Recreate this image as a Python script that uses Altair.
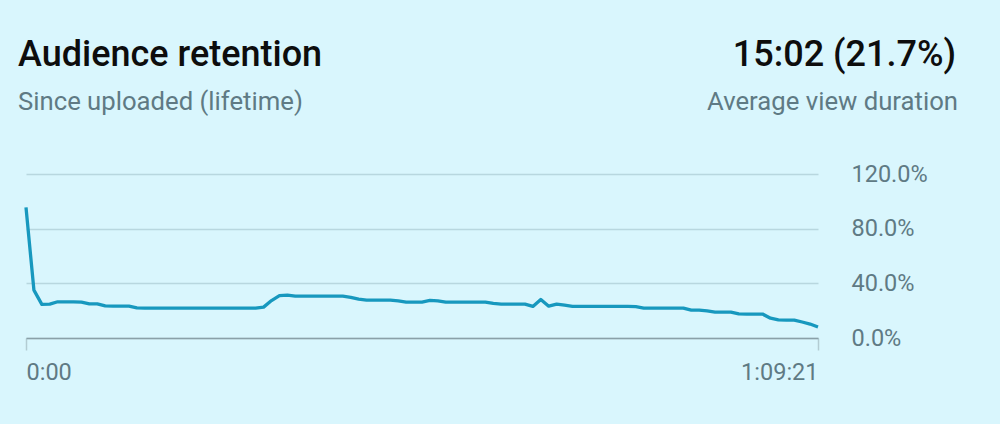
import altair as alt
import pandas as pd
import jinja2

# Retention (% of viewers) sampled at 101 evenly spaced points of the video
RETENTION = [
    95.6, 35.0, 24.6, 24.8, 26.5, 26.5, 26.5, 26.3, 25.0, 25.0,
    23.5, 23.3, 23.3, 23.3, 22.0, 21.9, 21.9, 21.9, 21.9, 21.9,
    21.9, 21.9, 21.9, 21.9, 21.9, 21.9, 21.9, 21.9, 21.9, 21.9,
    22.6, 27.4, 31.0, 31.4, 30.6, 30.6, 30.6, 30.6, 30.6, 30.6,
    30.6, 29.8, 28.5, 27.7, 27.7, 27.7, 27.7, 27.2, 26.3, 26.3,
    26.3, 27.5, 27.2, 26.3, 26.3, 26.3, 26.3, 26.3, 26.3, 25.3,
    24.8, 24.8, 24.8, 24.8, 23.1, 28.2, 23.3, 24.8, 24.0, 23.1,
    23.1, 23.1, 23.1, 23.1, 23.1, 23.1, 23.1, 22.9, 21.9, 21.9,
    21.9, 21.9, 21.9, 21.9, 20.4, 20.4, 19.8, 19.0, 19.0, 19.0,
    17.6, 17.5, 17.5, 17.5, 14.5, 13.2, 13.1, 13.1, 11.7, 10.2,
    8.0,
]
POSITION = list(range(len(RETENTION)))  # sample index, 0..100 (% of video)
X_TICKS = [0, 100]
X_LABELS = ["0:00", "1:09:21"]
Y_TICKS = [0, 40, 80, 120]

TITLE = "Audience retention"
SUBTITLE = "Since uploaded (lifetime)"
STAT = "15:02 (21.7%)"
STAT_LABEL = "Average view duration"

FONT = "Roboto"
BG = "#d9f6fd"
GREY = "#5f7a84"

df = pd.DataFrame({"pos": POSITION, "ret": RETENTION})

x_enc = alt.X(
    "pos:Q",
    scale=alt.Scale(domain=[0, 100], nice=False, zero=False),
    axis=alt.Axis(
        title=None,
        values=X_TICKS,
        labelExpr=f"datum.value == 0 ? '{X_LABELS[0]}' : '{X_LABELS[1]}'",
        labelFlush=True,
        labelFont=FONT,
        labelFontSize=23.5,
        labelColor=GREY,
        labelBaseline="alphabetic",
        labelPadding=29,
        tickSize=12,
        tickColor="#b3ccd3",
        tickWidth=1.5,
        domainColor="#8aa0a8",
        domainWidth=1.5,
        grid=False,
    ),
)
y_enc = alt.Y(
    "ret:Q",
    scale=alt.Scale(domain=[0, 120], nice=False),
    axis=alt.Axis(
        title=None,
        orient="right",
        values=Y_TICKS,
        labelExpr="format(datum.value, '.1f') + '%'",
        labelFont=FONT,
        labelFontSize=23.5,
        labelColor=GREY,
        labelPadding=33,
        labelBaseline="middle",
        ticks=False,
        domain=False,
        grid=True,
        gridColor="#b8d7df",
        gridWidth=1.5,
    ),
)

line = alt.Chart(df).mark_line(color="#1798be", strokeWidth=3.3, strokeJoin="round").encode(
    x=x_enc, y=y_enc
)

def txt(s, x, y, size, weight, color, align):
    return alt.Chart(pd.DataFrame({"t": [s]})).mark_text(
        font=FONT, fontSize=size, fontWeight=weight, color=color,
        align=align, baseline="alphabetic",
    ).encode(text="t:N", x=alt.value(x), y=alt.value(y))

chart = alt.layer(
    line,
    txt(TITLE, -8, -108, 36, 500, "#0d0d0d", "left"),
    txt(SUBTITLE, -8, -64, 25.7, "normal", GREY, "left"),
    txt(STAT, 930, -108, 36, 500, "#0d0d0d", "right"),
    txt(STAT_LABEL, 932, -64, 25.7, "normal", GREY, "right"),
).properties(
    width=792,
    height=164,
    autosize=alt.AutoSizeParams(type="none"),
    padding={"left": 18, "top": 166, "right": 174, "bottom": 78},
    background=BG,
).configure_view(stroke=None)

PAGE = jinja2.Template("""<!DOCTYPE html>
<html>
<head>
  <style>html, body { background: """ + BG + """; }</style>
  <script type="text/javascript" src="{{ base_url }}/vega@{{ vega_version }}"></script>
  <script type="text/javascript" src="{{ base_url }}/vega-lite@{{ vegalite_version }}"></script>
  <script type="text/javascript" src="{{ base_url }}/vega-embed@{{ vegaembed_version }}"></script>
</head>
<body>
  <div id="{{ output_div }}"></div>
  <script type="text/javascript">
    (function(vegaEmbed) {
      var spec = {{ spec }};
      var embedOpt = {{ embed_options }};
      var el = document.getElementById('{{ output_div }}');
      vegaEmbed("#{{ output_div }}", spec, embedOpt).catch(function(error) {
        el.innerHTML = '<div style="color:red;"><p>JavaScript Error: ' + error.message + '</p></div>';
        throw error;
      });
    })(vegaEmbed);
  </script>
</body>
</html>
""")

try:
    chart.save("out.html", embed_options={"renderer": "svg", "actions": False}, template=PAGE)
except Exception:
    chart.save("out.html", embed_options={"renderer": "svg", "actions": False})
